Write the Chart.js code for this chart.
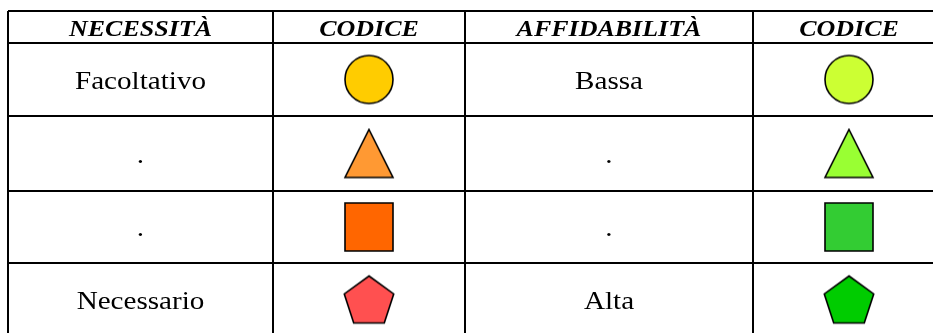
<!DOCTYPE html>
<html>
  <head>
    <title>Necessità / Affidabilità</title>
    <script src="https://cdn.jsdelivr.net/npm/chart.js"></script>
    <style>
      body { margin: 0; overflow: hidden; background: #fff; }
    </style>
  </head>
  <body>
    <canvas id="myChart" width="950" height="340"></canvas>

    <script>
      // dati della tabella
      const headers = ["NECESSITÀ", "CODICE", "AFFIDABILITÀ", "CODICE"];
      const necessita = ["Facoltativo", ".", ".", "Necessario"];
      const affidabilita = ["Bassa", ".", ".", "Alta"];
      const forme = ["circle", "triangle", "rect", "pentagon"];
      const coloriNecessita = ["#ffcc00", "#ff9933", "#ff6600", "#ff5050"];
      const coloriAffidabilita = ["#ccff33", "#99ff33", "#33cc33", "#00cc00"];

      // layout: larghezze colonne e altezze righe (px)
      const colWidths = [265, 192, 288, 192];
      const rowHeights = [32, 73, 75, 72, 73];

      const cumsum = (arr) => arr.reduce((acc, v) => acc.concat(acc[acc.length - 1] + v), [0]);
      const colEdges = cumsum(colWidths);
      const rowEdges = cumsum(rowHeights);
      const colCenter = (i) => (colEdges[i] + colEdges[i + 1]) / 2;
      const rowCenter = (i) => (rowEdges[i] + rowEdges[i + 1]) / 2;

      // disegna una forma su un canvas da usare come pointStyle
      function makeShape(kind, color) {
        const s = 52;
        const c = document.createElement("canvas");
        c.width = s;
        c.height = s;
        const g = c.getContext("2d");
        const m = s / 2;
        g.beginPath();
        if (kind === "circle") {
          g.arc(m, m, 24, 0, Math.PI * 2);
        } else if (kind === "triangle") {
          g.moveTo(m, 2);
          g.lineTo(m + 24, 50);
          g.lineTo(m - 24, 50);
          g.closePath();
        } else if (kind === "rect") {
          g.rect(2, 2, 48, 48);
        } else {
          const R = 26;
          const h = R * (1 + Math.cos(Math.PI / 5));
          const cy = (s - h) / 2 + R;
          for (let k = 0; k < 5; k++) {
            const a = -Math.PI / 2 + (k * 2 * Math.PI) / 5;
            const px = m + R * Math.cos(a);
            const py = cy + R * Math.sin(a);
            if (k === 0) g.moveTo(px, py);
            else g.lineTo(px, py);
          }
          g.closePath();
        }
        g.fillStyle = color;
        g.fill();
        g.lineWidth = 1.6;
        g.strokeStyle = "#000";
        g.stroke();
        return c;
      }

      // testo leggermente allargato in orizzontale come nell'originale
      function stretchedText(ctx, t, x, y, sx) {
        ctx.save();
        ctx.translate(x, y);
        ctx.scale(sx, 1);
        ctx.fillText(t, 0, 0);
        ctx.restore();
      }

      const textPlugin = {
        id: "cellText",
        afterDatasetsDraw(chart) {
          const ctx = chart.ctx;
          const xs = chart.scales.x;
          const ys = chart.scales.y;
          ctx.save();
          ctx.fillStyle = "#000";
          ctx.textAlign = "center";
          ctx.textBaseline = "alphabetic";
          ctx.font = "italic bold 23px 'Liberation Serif'";
          headers.forEach((h, i) => {
            stretchedText(ctx, h, xs.getPixelForValue(colCenter(i)), ys.getPixelForValue(rowCenter(0)) + 8.5, 1.13);
          });
          ctx.font = "26px 'Liberation Serif'";
          necessita.forEach((t, r) => {
            stretchedText(ctx, t, xs.getPixelForValue(colCenter(0)), ys.getPixelForValue(rowCenter(r + 1)) + 9, 1.12);
          });
          affidabilita.forEach((t, r) => {
            stretchedText(ctx, t, xs.getPixelForValue(colCenter(2)), ys.getPixelForValue(rowCenter(r + 1)) + 9, 1.12);
          });
          ctx.restore();
        },
      };

      const ctx = document.getElementById("myChart").getContext("2d");
      const myChart = new Chart(ctx, {
        type: "scatter",
        data: {
          datasets: [
            {
              label: "Necessità",
              data: forme.map((f, r) => ({ x: colCenter(1), y: rowCenter(r + 1) })),
              pointStyle: forme.map((f, r) => makeShape(f, coloriNecessita[r])),
              pointRadius: 24,
            },
            {
              label: "Affidabilità",
              data: forme.map((f, r) => ({ x: colCenter(3), y: rowCenter(r + 1) })),
              pointStyle: forme.map((f, r) => makeShape(f, coloriAffidabilita[r])),
              pointRadius: 24,
            },
          ],
        },
        options: {
          responsive: false,
          animation: false,
          events: [],
          layout: { autoPadding: false, padding: { left: 8, top: 11, right: 5, bottom: 4 } },
          plugins: { legend: { display: false }, tooltip: { enabled: false } },
          scales: {
            x: {
              type: "linear",
              min: 0,
              max: colEdges[colEdges.length - 1],
              afterBuildTicks: (axis) => {
                axis.ticks = colEdges.map((v) => ({ value: v }));
              },
              ticks: { display: false },
              grid: { color: "#000", lineWidth: 2, drawTicks: false },
              border: { display: false },
            },
            y: {
              type: "linear",
              reverse: true,
              min: 0,
              max: rowEdges[rowEdges.length - 1],
              afterBuildTicks: (axis) => {
                axis.ticks = rowEdges.map((v) => ({ value: v }));
              },
              ticks: { display: false },
              grid: { color: "#000", lineWidth: 2, drawTicks: false },
              border: { display: false },
            },
          },
        },
        plugins: [textPlugin],
      });
    </script>
  </body>
</html>
